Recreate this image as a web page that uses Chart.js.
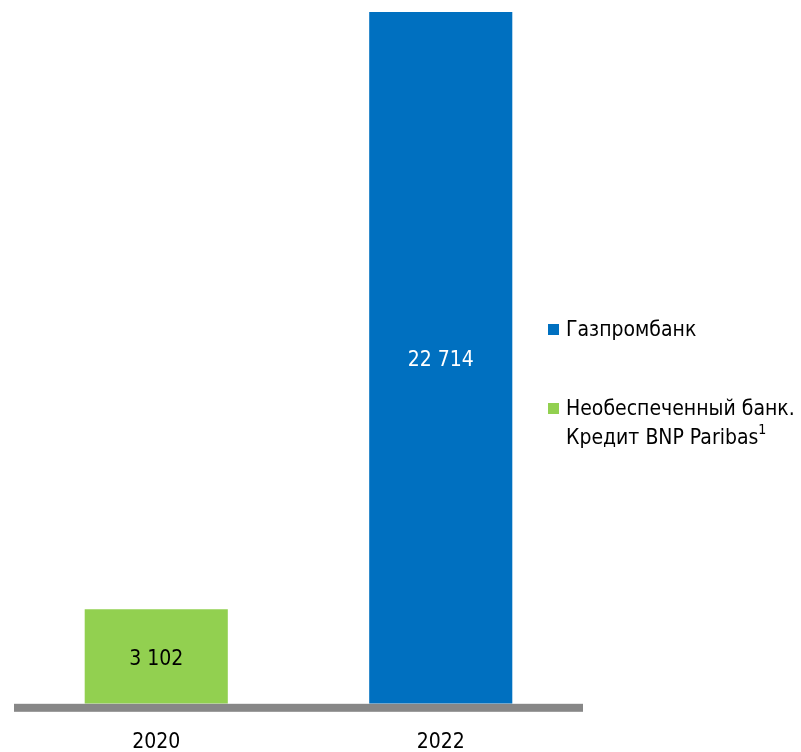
<!DOCTYPE html>
<html>
<head>
<meta charset="utf-8">
<script src="https://cdn.jsdelivr.net/npm/chart.js@4"></script>
<style>
  html, body { margin: 0; padding: 0; background: #fff; }
  #wrap { position: relative; width: 801px; height: 752px; }
  #c { position: absolute; left: 0; top: 0; }
  .leg { position: absolute; left: 548px; font-family: "DejaVu Sans Condensed", "Liberation Sans Narrow", sans-serif; font-stretch: condensed; font-size: 21px; color: #000; line-height: 29px; }
  .sw { position: absolute; left: 0; width: 11px; height: 11px; }
  .tx { position: absolute; left: 18px; white-space: nowrap; }
  sup { font-size: 14px; line-height: 0; position: relative; top: -2px; }
</style>
</head>
<body>
<div id="wrap">
  <canvas id="c" width="801" height="752"></canvas>
  <div class="leg" style="top:315px;">
    <div class="sw" style="top:9px;background:#0070C0;"></div>
    <div class="tx" style="top:0;">Газпромбанк</div>
  </div>
  <div class="leg" style="top:394px;">
    <div class="sw" style="top:9px;background:#92D050;"></div>
    <div class="tx" style="top:0;">Необеспеченный банк.<br>Кредит BNP Paribas<sup>1</sup></div>
  </div>
</div>
<script>
const categories = ["2020", "2022"];
const gazprombank = [null, 22714];
const bnpParibas = [3102, null];
const seriesNames = ["Газпромбанк", "Необеспеченный банк. Кредит BNP Paribas"];

const FONT = '"DejaVu Sans Condensed", "Liberation Sans Narrow", sans-serif';

function fmt(v) {
  return String(v).replace(/\B(?=(\d{3})+(?!\d))/g, " ");
}

const baseline = {
  id: 'baseline',
  afterDatasetsDraw(chart) {
    const ctx = chart.ctx, a = chart.chartArea;
    ctx.save();
    ctx.fillStyle = '#878787';
    ctx.fillRect(a.left, a.bottom, a.right - a.left, 8);
    ctx.restore();
  }
};

const valueLabels = {
  id: 'valueLabels',
  afterDatasetsDraw(chart) {
    const ctx = chart.ctx;
    ctx.save();
    ctx.font = '21px ' + FONT;
    ctx.textAlign = 'center';
    ctx.textBaseline = 'middle';
    chart.data.datasets.forEach((ds, i) => {
      const meta = chart.getDatasetMeta(i);
      meta.data.forEach((bar, j) => {
        const v = ds.data[j];
        if (v == null) return;
        ctx.fillStyle = ds.labelColor;
        ctx.fillText(fmt(v), bar.x, (bar.y + bar.base) / 2 + 3);
      });
    });
    ctx.restore();
  }
};

new Chart(document.getElementById('c'), {
  type: 'bar',
  data: {
    labels: categories,
    datasets: [
      { label: seriesNames[0], data: gazprombank, backgroundColor: '#0070C0', labelColor: '#ffffff' },
      { label: seriesNames[1], data: bnpParibas, backgroundColor: '#92D050', labelColor: '#000000' }
    ]
  },
  options: {
    responsive: false,
    animation: false,
    devicePixelRatio: 1,
    layout: { padding: { top: 12, left: 14, right: 218, bottom: -29 } },
    datasets: { bar: { categoryPercentage: 1.0, barPercentage: 0.503 } },
    plugins: { legend: { display: false }, tooltip: { enabled: false } },
    scales: {
      x: {
        stacked: true,
        grid: { display: false, drawTicks: false },
        border: { display: false },
        ticks: { color: '#000', font: { family: FONT, size: 21 }, padding: 26 }
      },
      y: {
        stacked: true,
        display: false,
        min: 0,
        max: 22714
      }
    }
  },
  plugins: [baseline, valueLabels]
});
</script>
</body>
</html>
